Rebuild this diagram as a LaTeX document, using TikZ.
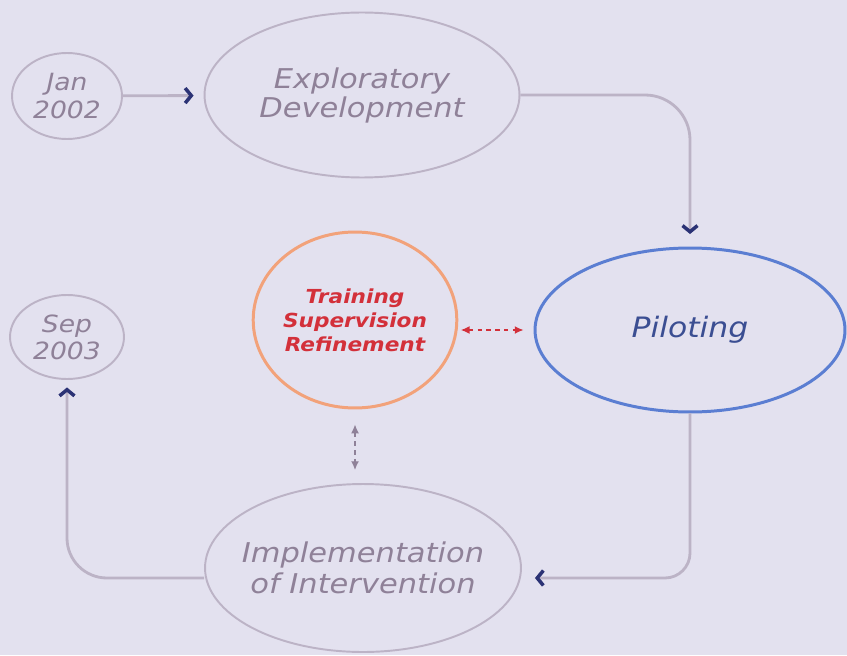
\documentclass[tikz,border=0pt]{standalone}
\usepackage{fontspec}
\newfontfamily\techfont[FakeStretch=1.12]{DejaVu Sans}
\usetikzlibrary{shapes.geometric,arrows.meta}
\definecolor{paper}{HTML}{E3E1EF}
\definecolor{mauve}{HTML}{8F8198}
\definecolor{rim}{HTML}{BCB3C6}
\definecolor{navy}{HTML}{2B3275}
\definecolor{pilotblue}{HTML}{5B7ED2}
\definecolor{pilottext}{HTML}{3B4E92}
\definecolor{salmon}{HTML}{F2A27A}
\definecolor{trainred}{HTML}{D3303A}
\tikzset{stage/.style={ellipse, draw=rim, line width=1.1pt, inner sep=0pt, text=mauve, align=center,
  font=\techfont\itshape\fontsize{15.5}{16.5}\selectfont},
%dates are smaller
date/.style={stage, font=\techfont\itshape\fontsize{13.5}{15.5}\selectfont},
%long text goes in a label so the ellipse keeps its size
inside/.style={label={[text=mauve, align=center, font=\techfont\itshape\fontsize{15.5}{18}\selectfont]center:#1}},
conn/.style={draw=rim, line width=1.6pt, -{Straight Barb[color=navy, line width=2pt, length=3.5pt, width=8.5pt]}},
link/.style={dash pattern=on 2.5pt off 2.5pt, line width=0.8pt, {Latex[length=5pt,width=4.5pt]}-{Latex[length=5pt,width=4.5pt]}}}

\begin{document}
\begin{tikzpicture}[x=0.02cm,y=-0.02cm]

\fill[paper] (0,0) rectangle (847,655);
\useasboundingbox (0,0) rectangle (847,655);

\node[date, minimum width=2.2cm, minimum height=1.72cm] (jan) at (67,96) {Jan\\2002};
\node[stage, minimum width=6.3cm, minimum height=3.3cm] (expl) at (362,95) {Exploratory\\Development};
\node[stage, draw=pilotblue, line width=1.7pt, text=pilottext, minimum width=6.2cm, minimum height=3.28cm,
  font=\techfont\itshape\fontsize{16}{18}\selectfont] (pilot) at (690,330) {Piloting};
\node[stage, draw=salmon, line width=1.7pt, text=trainred, minimum width=3.68cm, minimum height=3.52cm,
  font=\techfont\itshape\bfseries\fontsize{11}{13.6}\selectfont] (train) at (355,320) {Training\\Supervision\\Refinement};
\node[stage, minimum width=6.32cm, minimum height=3.36cm,
  inside={Implementation\\of Intervention}] (impl) at (363,568) {};
\node[date, minimum width=2.28cm, minimum height=1.68cm] (sep) at (67,337) {Sep\\2003};

\draw[conn, shorten >=0.2cm] (jan) -- (expl);
\draw[conn, rounded corners=0.9cm, shorten >=0.25cm] (expl.east) -| (pilot.north);
\draw[conn, rounded corners=0.5cm, shorten >=0.26cm] (pilot.south) |- ([yshift=-0.2cm]impl.east);
\draw[conn, rounded corners=0.8cm, shorten >=0.15cm] ([yshift=-0.2cm]impl.west) -| (sep.south);

\draw[link, trainred, shorten <=0.05cm, shorten >=0.2cm] (train.east |- pilot.west) -- (pilot.west);
\draw[link, mauve, shorten <=0.3cm, shorten >=0.26cm] (train.south) -- (train.south |- impl.north);
\end{tikzpicture}
\end{document}
